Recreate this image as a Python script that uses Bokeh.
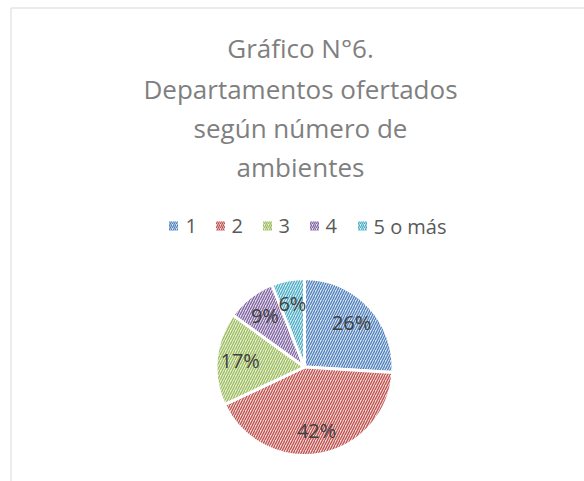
import numpy as np
from bokeh.plotting import figure
from bokeh.models import Range1d, ColumnDataSource
from bokeh.core.properties import value
from bokeh.embed import file_html
from bokeh.resources import INLINE

# ---- data ----
title_lines = ["Gráfico N°6.", "Departamentos ofertados", "según número de", "ambientes"]
categories = ["1", "2", "3", "4", "5 o más"]
percents = [26, 42, 17, 9, 6]
label_texts = ["26%", "42%", "17%", "9%", "6%"]

# ---- styles ----
line_colors = ["#4F81BD", "#C0504D", "#9BBB59", "#8064A2", "#4BACC6"]
fill_tints = ["#dde6f2", "#f3dddc", "#ebf1df", "#e5e0ec", "#dbeff5"]
FONT = "Open Sans"

W, H = 584, 481
p = figure(width=W, height=H, x_range=Range1d(0, W), y_range=Range1d(0, H),
           output_backend="svg", toolbar_location=None, min_border=0)
p.axis.visible = False
p.grid.visible = False
p.outline_line_color = None
p.background_fill_color = "white"

def Y(py):
    return H - py

# chart border (top and left visible)
p.quad(left=[10.5], right=[W + 50], top=[Y(7.5)], bottom=[-50],
       fill_color=None, line_color="#d9d9d9", line_width=1)

# title
title_y = [47, 88, 127, 166]
p.text(x=[300] * len(title_lines), y=[Y(v) for v in title_y], text=title_lines,
       text_font=value(FONT), text_font_size="26px", text_color="#7f7f7f",
       text_align="center", text_baseline="middle")

# legend
sq_x = [173, 220, 267, 314, 362]
txt_x = [185, 231, 278, 325, 373]
leg_y = Y(225.5)
p.rect(x=sq_x, y=[leg_y] * 5, width=9, height=9,
       fill_color=fill_tints, line_color=None,
       hatch_pattern="/", hatch_color=line_colors, hatch_scale=4, hatch_weight=1.2)
p.text(x=txt_x, y=[leg_y] * 5, text=categories, text_font=value(FONT),
       text_font_size="20px", text_color="#595959",
       text_align="left", text_baseline="middle")

# pie
cx, cy, r = 304, Y(366.5), 88.5
frac = np.array(percents, dtype=float) / np.sum(percents)
cum = np.cumsum(frac)
start = np.pi / 2 - 2 * np.pi * (cum - frac)
end = np.pi / 2 - 2 * np.pi * cum
src = ColumnDataSource(dict(start=start, end=end, fill=fill_tints, hatch=line_colors))
p.wedge(x=cx, y=cy, radius=r, start_angle="start", end_angle="end", direction="clock",
        source=src, fill_color="fill", line_color="white", line_width=3,
        hatch_pattern="/", hatch_color="hatch", hatch_scale=5, hatch_weight=1.3)

mid = (start + end) / 2
lr = 0.73 * r
p.text(x=cx + lr * np.cos(mid), y=cy + lr * np.sin(mid), text=label_texts,
       text_font=value(FONT), text_font_size="20px", text_color="#404040",
       text_align="center", text_baseline="middle")

open("out.html", "w").write(file_html(p, INLINE))
